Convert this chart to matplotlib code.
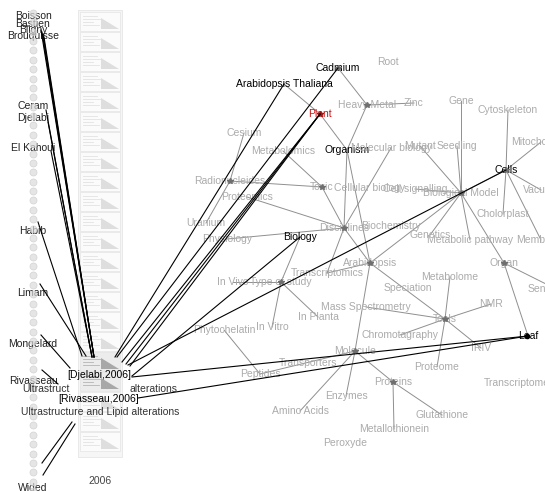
import matplotlib
matplotlib.use("Agg")
import matplotlib.pyplot as plt
from matplotlib.patches import Rectangle, Polygon
import numpy as np

plt.rcParams['font.family'] = ['Liberation Sans', 'DejaVu Sans']

# ---------------- data ----------------
concept_names = ["Cadmium", "Arabidopsis Thaliana", "Plant", "Organism", "Biology", "Cells", "Leaf",
                 "Root", "Heavy Metal", "Zinc", "Gene", "Cytoskeleton", "Mitochondria", "Cesium",
                 "Metabolomics", "Molecular biology", "Mutant", "Seedling", "Radionucleides", "Toxic",
                 "Cellular biology", "Cell signalling", "Biological Model", "Proteomics", "Vacuole",
                 "Cholorplast", "Uranium", "Physiology", "Disciplines", "Biochemistry", "Genetics",
                 "Metabolic pathway", "Membrane", "Arabidopsis", "Transcriptomics", "Organ", "In Vivo",
                 "Type of study", "Senescence", "Metabolome", "Speciation", "Mass Spectrometry", "NMR",
                 "Tools", "In Planta", "In Vitro", "Phytochelatin", "Chromotagraphy", "IRIV", "Molecule",
                 "Transporters", "Peptides", "Proteome", "Proteins", "Transcriptome", "Enzymes",
                 "Amino Acids", "Glutathione", "Metallothionein", "Peroxyde"]
concept_x = [338, 284, 320, 347, 300, 506, 528,
             388, 367, 414, 461, 508, 541, 244,
             283, 391, 420, 457, 230, 322,
             370, 415, 461, 247, 541,
             503, 206, 227, 344, 391, 430,
             470, 541, 370, 327, 504, 233,
             281, 556, 450, 408, 366, 491,
             445, 318, 272, 224, 400, 481, 355,
             308, 260, 437, 393, 517, 346,
             300, 442, 394, 345]
concept_y = [68, 84, 114, 150, 237, 170, 336,
             62, 105, 103, 101, 110, 142, 133,
             151, 148, 146, 146, 181, 187,
             188, 189, 193, 197, 190,
             214, 223, 239, 228, 226, 235,
             240, 240, 263, 273, 263, 282,
             282, 289, 277, 288, 307, 304,
             319, 317, 327, 330, 335, 348, 351,
             363, 374, 367, 382, 383, 396,
             411, 415, 429, 443]
selected_concepts = ["Cadmium", "Arabidopsis Thaliana", "Organism", "Biology", "Cells", "Leaf"]
focus_concept = "Plant"

hub_concepts = ["Heavy Metal", "Disciplines", "Arabidopsis", "Biological Model", "Tools", "Molecule",
                "Type of study", "Cells", "Proteins", "Organ", "Toxic", "Radionucleides", "Cadmium"]

concept_edges = [("Cadmium", "Heavy Metal"), ("Heavy Metal", "Zinc"), ("Heavy Metal", "Organism"),
                 ("Arabidopsis Thaliana", "Plant"), ("Plant", "Organism"), ("Cesium", "Radionucleides"),
                 ("Radionucleides", "Uranium"), ("Radionucleides", "Toxic"), ("Metabolomics", "Toxic"),
                 ("Toxic", "Disciplines"), ("Organism", "Disciplines"), ("Organism", "Arabidopsis"),
                 ("Molecular biology", "Disciplines"), ("Physiology", "Disciplines"),
                 ("Proteomics", "Disciplines"), ("Disciplines", "Arabidopsis"),
                 ("Disciplines", "Transcriptomics"), ("Biological Model", "Gene"),
                 ("Biological Model", "Mutant"), ("Biological Model", "Seedling"),
                 ("Biological Model", "Cell signalling"), ("Biological Model", "Cells"),
                 ("Biological Model", "Genetics"), ("Biological Model", "Metabolic pathway"),
                 ("Biological Model", "Organ"), ("Biological Model", "Arabidopsis"),
                 ("Cells", "Cytoskeleton"), ("Cells", "Mitochondria"), ("Cells", "Vacuole"),
                 ("Cells", "Membrane"), ("Cells", "Cholorplast"), ("Organ", "Senescence"),
                 ("Organ", "Leaf"), ("Arabidopsis", "Tools"), ("Arabidopsis", "Molecule"),
                 ("Arabidopsis", "Transcriptomics"), ("Tools", "Metabolome"), ("Tools", "NMR"),
                 ("Tools", "Mass Spectrometry"), ("Tools", "Chromotagraphy"), ("Tools", "IRIV"),
                 ("Tools", "Proteome"), ("Molecule", "Peptides"), ("Molecule", "Amino Acids"),
                 ("Molecule", "Enzymes"), ("Molecule", "Proteins"), ("Proteins", "Glutathione"),
                 ("Proteins", "Metallothionein"), ("Phytochelatin", "Peptides"),
                 ("Type of study", "In Vivo"), ("Type of study", "In Vitro"),
                 ("Type of study", "In Planta"), ("Type of study", "Biology")]

# links from the selected papers to concepts (start point on paper, target concept)
paper_link_x = [115, 117, 122, 126, 130, 128, 132, 132, 138]
paper_link_y = [357, 357, 362, 364, 366, 365, 376, 377, 398]
paper_link_to = ["Arabidopsis Thaliana", "Cadmium", "Plant", "Plant", "Plant", "Cells", "Biology", "Leaf", "Leaf"]

# authors
author_names = ["Boisson", "Bastien", "Bligny", "Brouquisse", "Ceram", "Djelabi", "El Kahoui",
                "Habib", "Limam", "Mongelard", "Rivasseau", "", "Wided"]
author_label_y = [16, 24, 30, 36, 106, 118, 148, 231, 293, 344, 381, 0, 488]
author_link_x0 = [41, 42, 43, 44, 46, 48, 51, 38, 40, 41, 42, 42, 43]
author_link_y0 = [30, 32, 34, 37, 110, 122, 151, 222, 284, 335, 370, 463, 475]
author_link_x1 = [94, 94, 94, 94, 92, 92, 92, 82, 86, 70, 58, 72, 75]
author_link_y1 = [357, 357, 357, 357, 357, 357, 357, 356, 356, 368, 384, 422, 424]

papers = ["[Djelabi,2006]", "[Rivasseau,2006]"]
paper_label_y = [375, 399]
paper_title = "Ultrastructure and Lipid alterations"
year_label = "2006"

n_docs = 22
selected_docs = [17, 18]
n_author_icons = 52

# ---------------- figure ----------------
W, H = 545, 491
fig = plt.figure(figsize=(5.45, 4.91), dpi=100)
ax = fig.add_axes([0, 0, 1, 1])
ax.set_xlim(0, W)
ax.set_ylim(H, 0)
ax.axis('off')
FS = 7.5
GREY_TXT = '#ababab'
GREY_EDGE = '#8f8f8f'

pos = {n: (x, y) for n, x, y in zip(concept_names, concept_x, concept_y)}

# grey concept edges
for a, b in concept_edges:
    (x0, y0), (x1, y1) = pos[a], pos[b]
    ax.plot([x0, x1], [y0, y1], color=GREY_EDGE, lw=0.7, zorder=1)

# concept labels
for n, x, y in zip(concept_names, concept_x, concept_y):
    if n == focus_concept:
        c = '#cc1111'
    elif n in selected_concepts:
        c = 'black'
    else:
        c = GREY_TXT
    ax.text(x, y, n, fontsize=FS, color=c, ha='center', va='center', zorder=3)

# hubs
for n in hub_concepts:
    x, y = pos[n]
    ax.plot(x, y, marker='*', ms=4, color='#6f6f6f', mec='#6f6f6f', zorder=4)
ax.plot(*pos[focus_concept], marker='*', ms=4, color='#aa1111', zorder=4)
ax.plot(527, 336, marker='o', ms=3, color='black', zorder=4)

# document column
ax.add_patch(Rectangle((78, 10), 44, 447, facecolor='#f6f6f6', edgecolor='#e6e6e6', lw=0.6, zorder=2))
doc_tops = np.linspace(12, 432, n_docs)
for i, t in enumerate(doc_tops):
    sel = i in selected_docs
    face = '#ececec' if sel else '#fbfbfb'
    linec = '#b5b5b5' if sel else '#e2e2e2'
    tri = '#a8a8a8' if sel else '#dedede'
    ax.add_patch(Rectangle((80, t), 40, 19, facecolor=face, edgecolor='#e4e4e4', lw=0.5, zorder=2))
    for k, L in enumerate([14, 18, 10, 16]):
        ax.plot([83, 83 + L], [t + 4 + 3 * k, t + 4 + 3 * k], color=linec, lw=0.6, zorder=2)
    ax.add_patch(Polygon([[101, t + 6], [119, t + 17], [101, t + 17]], closed=True,
                         facecolor=tri, edgecolor='none', zorder=2))

# author icons column
icon_y = np.linspace(13, 491, n_author_icons)
ax.scatter(np.full(n_author_icons, 33), icon_y, s=26, facecolor='#dadada', edgecolor='#c8c8c8',
           lw=0.5, zorder=5, alpha=0.7)

# author links
for x0, y0, x1, y1 in zip(author_link_x0, author_link_y0, author_link_x1, author_link_y1):
    ax.plot([x0, x1], [y0, y1], color='black', lw=0.8, zorder=6)

# author labels
for n, y in zip(author_names, author_label_y):
    if n:
        ax.text(33, y, n, fontsize=FS, color='#222222', ha='center', va='center', zorder=4)

# paper to concept links
for x0, y0, t in zip(paper_link_x, paper_link_y, paper_link_to):
    x1, y1 = pos[t]
    ax.plot([x0, x1], [y0, y1], color='black', lw=0.8, zorder=6)

# paper labels
ax.text(22, 389, "Ultrastruct", fontsize=FS, color='#333333', ha='left', va='center', zorder=7)
ax.text(178, 389, "alterations", fontsize=FS, color='#333333', ha='right', va='center', zorder=7)
for p, y in zip(papers, paper_label_y):
    ax.text(99, y, p, fontsize=FS, color='black', ha='center', va='center', zorder=7)
ax.text(100, 412, paper_title, fontsize=FS, color='#333333', ha='center', va='center', zorder=7)
ax.text(100, 481, year_label, fontsize=FS, color='#444444', ha='center', va='center', zorder=7)

fig.savefig("out.png", dpi=100, facecolor='white')
